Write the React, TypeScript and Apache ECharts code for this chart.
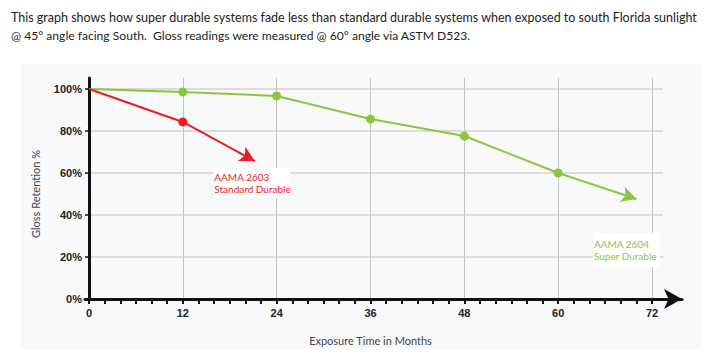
import React, { useEffect, useRef } from "react";
import * as echarts from "echarts";

const months = [0, 12, 24, 36, 48, 60];
const superDurable = [100, 98.6, 96.7, 85.7, 77.6, 60];
const standardMonths = [0, 12];
const standardDurable = [100, 84.3];
const superArrowEnd = [70, 47.6];
const standardArrowEnd = [21.2, 65.7];
const yTicks = [0, 20, 40, 60, 80, 100];
const xTicks = [0, 12, 24, 36, 48, 60, 72];
const titleLines = [
  "This graph shows how super durable systems fade less than standard durable systems when exposed to south Florida sunlight",
  "@ 45° angle facing South.  Gloss readings were measured @ 60° angle via ASTM D523.",
];
const superLabel = ["AAMA 2604", "Super Durable"];
const standardLabel = ["AAMA 2603", "Standard Durable"];
const superLabelAt = [64.45, 31.4];
const standardLabelAt = [15.9, 62.4];

const RED = "#ec1c24";
const GREEN = "#8cc63f";
const TXT = "Lato, 'Open Sans', sans-serif";
const AX = "'Liberation Sans', Arial, sans-serif";

export default function App() {
  const ref = useRef<HTMLDivElement>(null);
  useEffect(() => {
    if (!ref.current) return;
    const chart = echarts.init(ref.current, null, { renderer: "svg" });
    const yMaxB = 105.238;
    const titleStyle = {
      fontFamily: TXT,
      fontWeight: "normal",
      color: "#222",
    };
    chart.setOption({
      animation: false,
      backgroundColor: "#ffffff",
      title: [
        {
          text: titleLines[0],
          left: 6,
          top: 4,
          textStyle: { ...titleStyle, fontSize: 12.5, lineHeight: 16 },
        },
        {
          text: titleLines[1],
          left: 6,
          top: 22,
          textStyle: { ...titleStyle, fontSize: 12.1, lineHeight: 16 },
        },
      ],
      graphic: [
        {
          type: "rect",
          z: -10,
          silent: true,
          shape: { x: 21, y: 64, width: 680, height: 285 },
          style: { fill: "#f8f9fb" },
        },
      ],
      grid: [
        { left: 89, top: 89, width: 574, height: 210, containLabel: false },
        { left: 89, top: 78, width: 563, height: 221, containLabel: false },
        { left: 85, top: 78, width: 597, height: 221, containLabel: false },
      ],
      xAxis: [
        { gridIndex: 0, type: "value", min: 0, max: 100, show: false },
        {
          gridIndex: 1,
          type: "value",
          min: 0,
          max: xTicks[xTicks.length - 1],
          interval: 12,
          name: "Exposure Time in Months",
          nameLocation: "middle",
          nameGap: 36,
          nameTextStyle: { fontFamily: TXT, fontSize: 11, color: "#444" },
          axisLine: { show: false },
          axisTick: {
            show: true,
            length: 5,
            lineStyle: { color: "#111", width: 2 },
          },
          minorTick: {
            show: true,
            splitNumber: 6,
            length: 5,
            lineStyle: { color: "#111", width: 2 },
          },
          axisLabel: {
            fontFamily: AX,
            fontWeight: "bold",
            fontSize: 11,
            color: "#222",
            margin: 8,
          },
          splitLine: {
            show: true,
            showMinLine: false,
            lineStyle: { color: "#c4c4c4", width: 1 },
          },
        },
        {
          gridIndex: 2,
          type: "value",
          min: 0,
          max: 100,
          axisLine: {
            show: true,
            symbol: ["none", "arrow"],
            symbolSize: [15, 18],
            lineStyle: { color: "#111", width: 3 },
          },
          axisTick: { show: false },
          axisLabel: { show: false },
          splitLine: { show: false },
        },
      ],
      yAxis: [
        {
          gridIndex: 0,
          type: "value",
          min: yTicks[0],
          max: yTicks[yTicks.length - 1],
          interval: 20,
          name: "Gloss Retention %",
          nameLocation: "middle",
          nameGap: 48,
          nameTextStyle: { fontFamily: TXT, fontSize: 11, color: "#444" },
          axisLine: { show: true, lineStyle: { color: "#111", width: 3 } },
          axisTick: {
            show: true,
            length: 4,
            lineStyle: { color: "#111", width: 1.5 },
          },
          axisLabel: {
            fontFamily: AX,
            fontWeight: "bold",
            fontSize: 11,
            color: "#222",
            margin: 7,
            formatter: (v: number) => v + "%",
          },
          splitLine: {
            show: true,
            showMinLine: false,
            lineStyle: { color: "#dcdcdc", width: 2 },
          },
        },
        {
          gridIndex: 1,
          type: "value",
          min: 0,
          max: yMaxB,
          axisLine: { show: true, lineStyle: { color: "#111", width: 3 } },
          axisTick: { show: false },
          axisLabel: { show: false },
          splitLine: { show: false },
        },
        {
          gridIndex: 2,
          type: "value",
          min: 0,
          max: 100,
          show: false,
        },
      ],
      series: [
        {
          type: "line",
          name: "AAMA 2604 Super Durable",
          xAxisIndex: 1,
          yAxisIndex: 1,
          data: months.map((m, i) => ({
            value: [m, superDurable[i]],
            symbolSize: i === 0 ? 0 : 9,
          })),
          symbol: "circle",
          itemStyle: { color: GREEN },
          lineStyle: { color: GREEN, width: 2 },
          z: 3,
          markLine: {
            silent: true,
            symbol: ["none", "arrow"],
            symbolSize: [12, 15],
            label: { show: false },
            lineStyle: { color: GREEN, width: 2, type: "solid" },
            data: [
              [
                { coord: [months[months.length - 1], superDurable[superDurable.length - 1]] },
                { coord: superArrowEnd },
              ],
            ],
          },
          markPoint: {
            silent: true,
            symbol: "rect",
            symbolSize: 0,
            data: [{ coord: superLabelAt }],
            label: {
              show: true,
              position: [0, 0],
              align: "left",
              verticalAlign: "top",
              formatter: superLabel.join("\n"),
              fontFamily: TXT,
              fontSize: 10,
              lineHeight: 12,
              color: GREEN,
              backgroundColor: "#ffffff",
              padding: [5, 3, 5, 1],
              width: 63,
            },
          },
        },
        {
          type: "line",
          name: "AAMA 2603 Standard Durable",
          xAxisIndex: 1,
          yAxisIndex: 1,
          data: standardMonths.map((m, i) => ({
            value: [m, standardDurable[i]],
            symbolSize: i === 0 ? 0 : 9,
          })),
          symbol: "circle",
          itemStyle: { color: RED },
          lineStyle: { color: RED, width: 2 },
          z: 4,
          markLine: {
            silent: true,
            symbol: ["none", "arrow"],
            symbolSize: [12, 15],
            label: { show: false },
            lineStyle: { color: RED, width: 2, type: "solid" },
            data: [
              [
                { coord: [standardMonths[1], standardDurable[1]] },
                { coord: standardArrowEnd },
              ],
            ],
          },
          markPoint: {
            silent: true,
            symbol: "rect",
            symbolSize: 0,
            data: [{ coord: standardLabelAt }],
            label: {
              show: true,
              position: [0, 0],
              align: "left",
              verticalAlign: "top",
              formatter: standardLabel.join("\n"),
              fontFamily: TXT,
              fontSize: 10,
              lineHeight: 12,
              color: RED,
              backgroundColor: "#ffffff",
              padding: [3, 6, 3, 1],
              width: 70,
            },
          },
        },
      ],
    });
    return () => chart.dispose();
  }, []);
  return (
    <div
      ref={ref}
      style={{ position: "absolute", left: 0, top: 0, width: 706, height: 359 }}
    />
  );
}
